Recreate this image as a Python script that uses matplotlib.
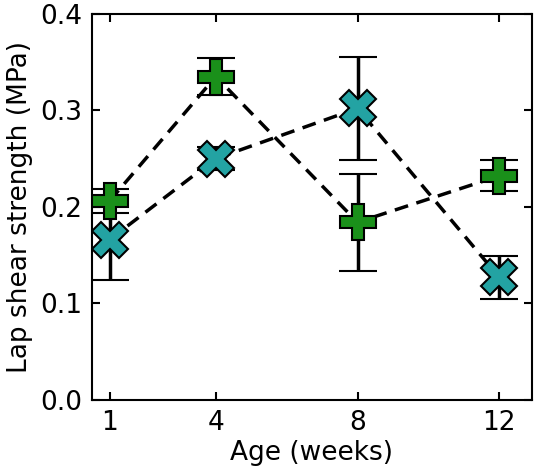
import matplotlib.pyplot as plt

# age in weeks
weeks = [1, 4, 8, 12]
# lap shear strength (MPa)
green_mean = [0.206, 0.335, 0.184, 0.232]
green_err = [0.012, 0.019, 0.050, 0.016]
teal_mean = [0.166, 0.250, 0.302, 0.127]
teal_err = [0.042, 0.012, 0.053, 0.022]

fig = plt.figure(figsize=(5.37, 4.76), dpi=100)
ax = fig.add_axes([0.171, 0.160, 0.820, 0.811])

ax.errorbar(weeks, green_mean, yerr=green_err, color='black', linestyle='--', linewidth=2.5,
            dashes=(4, 2.5), marker='P', markersize=26, markerfacecolor='#1a901a',
            markeredgecolor='black', markeredgewidth=1.5, ecolor='black', elinewidth=2.5,
            capsize=14, capthick=2.5, zorder=3)
ax.errorbar(weeks, teal_mean, yerr=teal_err, color='black', linestyle='--', linewidth=2.5,
            dashes=(4, 2.5), marker='X', markersize=26, markerfacecolor='#23a3a3',
            markeredgecolor='black', markeredgewidth=1.5, ecolor='black', elinewidth=2.5,
            capsize=14, capthick=2.5, zorder=3)

ax.set_xlim(0.5, 12.93)
ax.set_ylim(0, 0.4)
ax.set_xticks(weeks)
ax.set_yticks([0.0, 0.1, 0.2, 0.3, 0.4])
ax.tick_params(direction='in', top=True, right=True, labelsize=19, width=1.5, length=6, pad=7)
for s in ax.spines.values():
    s.set_linewidth(1.5)
ax.set_xlabel('Age (weeks)', fontsize=19, labelpad=3)
ax.set_ylabel('Lap shear strength (MPa)', fontsize=19, labelpad=5)

fig.savefig('out.png', dpi=100)
